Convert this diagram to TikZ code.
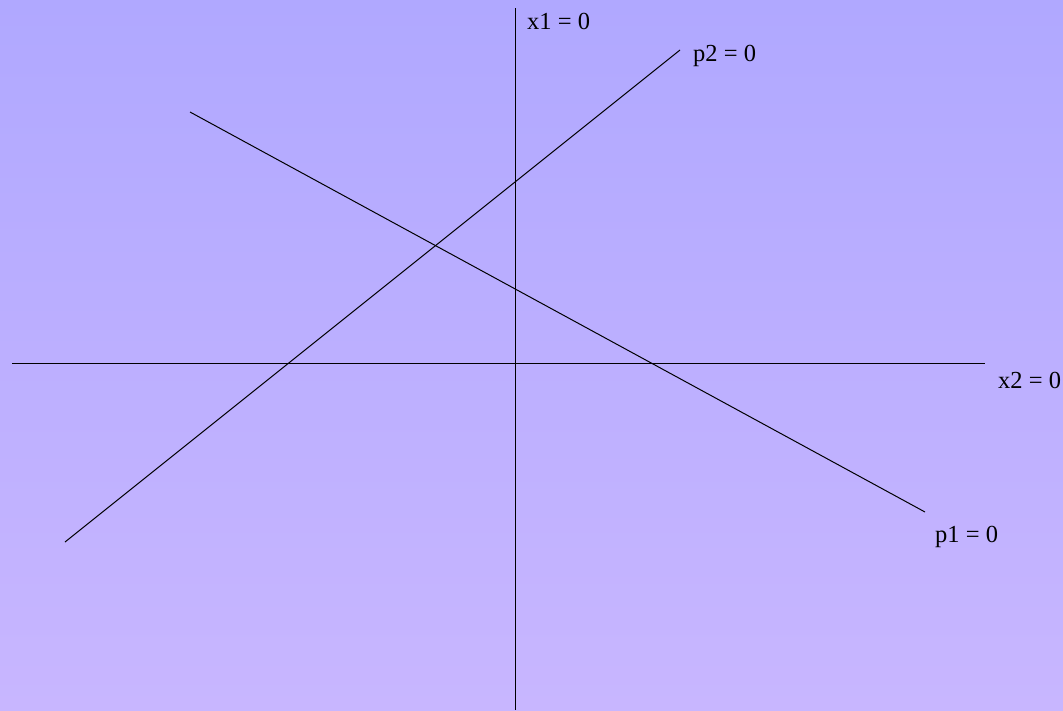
\documentclass[tikz,border=0pt]{standalone}
\usepackage{fontspec}
\setmainfont{Liberation Serif}
\definecolor{bgtop}{RGB}{176,168,255}
\definecolor{bgbot}{RGB}{200,182,255}
\tikzset{
  ln/.style={draw=black, line width=1pt},
  lbl/.style={anchor=west, inner sep=0pt, font=\fontsize{24.5}{28}\selectfont}
}
\begin{document}
\begin{tikzpicture}[x=1pt,y=-1pt]
\shade[top color=bgtop, bottom color=bgbot] (0,0) rectangle (1063,710);
\useasboundingbox (0,0) rectangle (1063,710);
\coordinate (vt) at (515,8);
\coordinate (vb) at (515,710);
\coordinate (hl) at (12,363);
\coordinate (hr) at (985,363);
\coordinate (p2a) at (65,542);
\coordinate (p2b) at (680,50);
\coordinate (p1a) at (190,112);
\coordinate (p1b) at (925,512);
\draw[ln] (vt) -- (vb);
\draw[ln] (hl) -- (hr);
\draw[ln] (p2a) -- (p2b);
\draw[ln] (p1a) -- (p1b);
\node[lbl] (x1) at (527,21) {x1 = 0};
\node[lbl] (p2) at (693,56) {p2 = 0};
\node[lbl] (x2) at (998,380) {x2 = 0};
\node[lbl] (p1) at (935,537) {p1 = 0};
\end{tikzpicture}
\end{document}
